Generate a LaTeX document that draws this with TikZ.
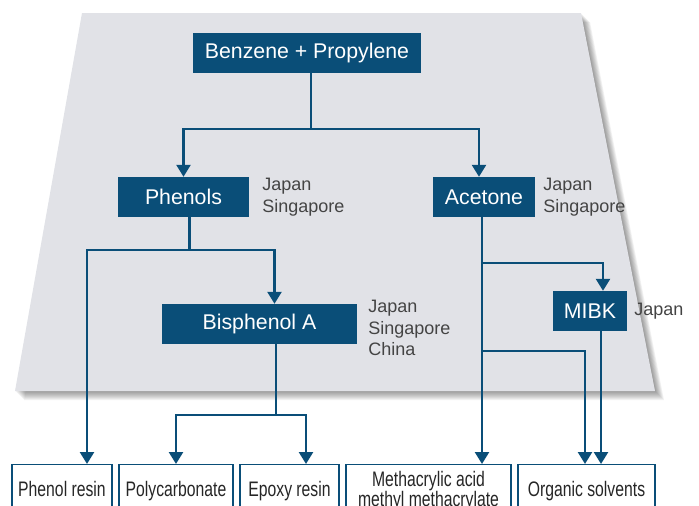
\documentclass[tikz,border=0pt]{standalone}
\usepackage{fontspec}
\setsansfont{Liberation Sans}
\newfontfamily\estrecha[FakeStretch=0.75]{Liberation Sans}
\usepackage{tikz}
\usetikzlibrary{positioning}
\usetikzlibrary{arrows.meta}
\definecolor{azul}{HTML}{0A4E78}
\definecolor{fondo}{HTML}{E1E2E7}
\definecolor{gristexto}{HTML}{444444}
\tikzset{
  caja/.style={fill=azul, text=white, inner sep=0pt, minimum height=40,
    font=\sffamily\fontsize{21.3}{21}\selectfont},
  producto/.style={draw=azul, line width=1.3pt, fill=white, text=black!85,
    inner sep=0pt, minimum height=54, text height=15, text depth=4.5, align=center,
    font=\estrecha\fontsize{21}{19}\selectfont},
  pais/.style={inner sep=0pt, align=left, text=gristexto,
    font=\sffamily\fontsize{18}{21.5}\selectfont},
  linea/.style={draw=azul, line width=2.5pt},
  flecha/.style={linea, -{Triangle[width=14pt,length=12pt]}}
}

\begin{document}
\begin{tikzpicture}[x=1pt,y=-1pt]
          \useasboundingbox (0,0) rectangle (699,506);
          %sombra
          \foreach \s in {1,...,9}
            \fill[black, opacity=0.05] (82+\s,13+\s) -- (581+\s,13+\s) -- (655+\s,391+\s) -- (15+\s,391+\s) -- cycle;
          %fondo
          \fill[fondo] (82,13) -- (581,13) -- (655,391) -- (15,391) -- cycle;
          %cajas
          \node[caja, minimum width=228] (bp) at (307,52.5) {Benzene + Propylene};
          \node[caja, minimum width=131] (fen) at (183.5,197) {Phenols};
          \node[caja, minimum width=102] (ace) at (484,197) {Acetone};
          \node[caja, minimum width=195] (bpa) at (259.5,324) {Bisphenol A};
          \node[caja, minimum width=74] (mibk) at (590,311) {MIBK};
          %paises
          \node[pais, right=13 of fen] (pfen) {Japan\\Singapore};
          \node[pais, right=8 of ace] (pace) {Japan\\Singapore};
          \node[pais, right=11 of bpa, yshift=-4] (pbpa) {Japan\\Singapore\\China};
          \node[pais, right=7 of mibk] (pmibk) {Japan};
          %productos
          \node[producto, minimum width=100] (pr) at (62,464) [anchor=north] {Phenol resin};
          \node[producto, minimum width=114] (pc) at (176,464) [anchor=north] {Polycarbonate};
          \node[producto, minimum width=99] (ep) at (289.5,464) [anchor=north] {Epoxy resin};
          \node[producto, minimum width=165, text height=35] (mma) at (428.5,464) [anchor=north] {Methacrylic acid\\methyl methacrylate};
          \node[producto, minimum width=137] (os) at (586.5,464) [anchor=north] {Organic solvents};
          %flechas
          \draw[linea] ([xshift=4]bp.south) -- ++(0,56.5) coordinate (r1);
          \draw[flecha] (r1) -| (fen.north);
          \draw[flecha] (r1) -| ([xshift=-5]ace.north);
          \draw[linea] ([xshift=6]fen.south) -- ++(0,33) coordinate (r2);
          \draw[flecha] (r2) -| ([xshift=25]pr.north);
          \draw[flecha] (r2) -| ([xshift=15]bpa.north);
          \draw[linea] ([xshift=16.5]bpa.south) -- ++(0,71) coordinate (r3);
          \draw[flecha] (r3) -| (pc.north);
          \draw[flecha] (r3) -| ([xshift=16.5]ep.north);
          \draw[flecha] ([xshift=-2]ace.south) -- ([xshift=-2]ace.south |- mma.north);
          \draw[flecha] ([xshift=-2,yshift=-46]ace.south) -| ([xshift=13]mibk.north);
          \draw[flecha] ([xshift=-2,yshift=-134]ace.south) -| ([xshift=-1.5]os.north);
          \draw[flecha] ([xshift=11]mibk.south) -- ([xshift=14.5]os.north);
        \end{tikzpicture}
\end{document}
